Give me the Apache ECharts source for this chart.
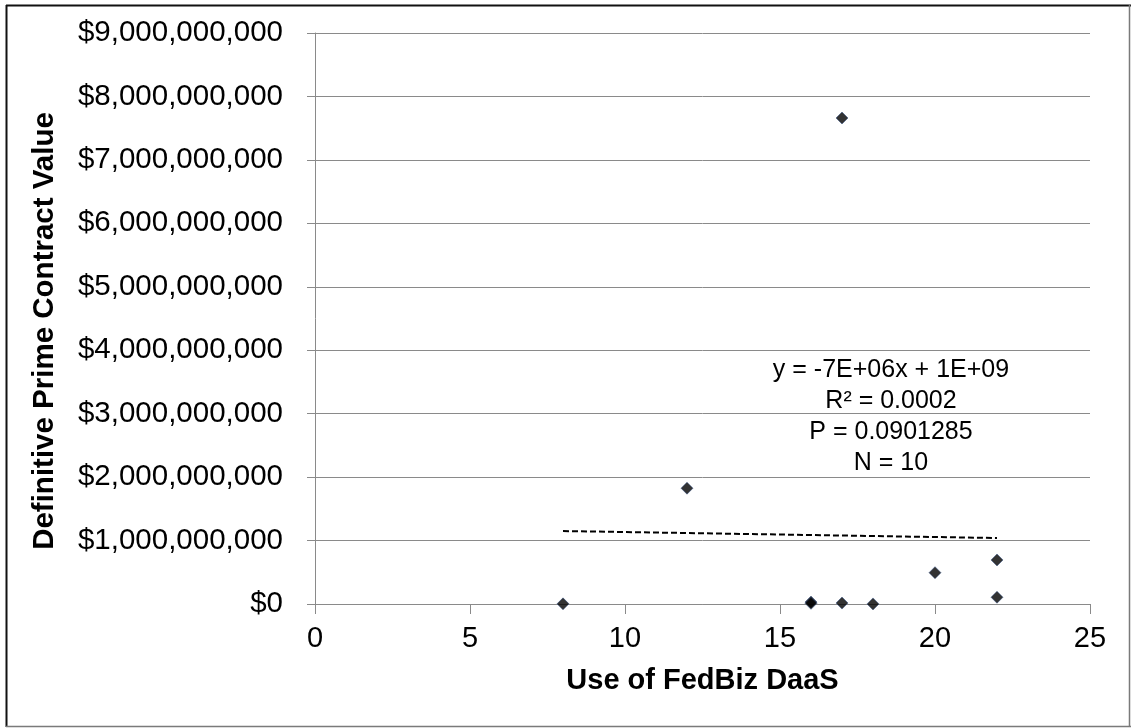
<!DOCTYPE html>
<html>
<head>
<meta charset="utf-8">
<script src="https://cdn.jsdelivr.net/npm/echarts@6/dist/echarts.min.js"></script>
<style>
html,body{margin:0;padding:0;background:#fff;}
#c{width:1131px;height:728px;}
</style>
</head>
<body>
<div id="c"></div>
<script>
// Data
var usesX = [8, 12, 17, 16, 16, 17, 18, 20, 22, 22];
var contractValues = [2e6, 1.825e9, 7.66e9, 3e7, 1e7, 1.5e7, 1e6, 4.94e8, 6.94e8, 1.06e8];
var trendX = [8, 22];
var trendY = [1.15e9, 1.04e9];
var xTicks = [0, 5, 10, 15, 20, 25];
var yTickMax = 9e9;
var annotationLines = ['y = -7E+06x + 1E+09', 'R\u00B2 = 0.0002', 'P = 0.0901285', 'N = 10'];

var FONT = "'Liberation Sans', Arial, sans-serif";
var GRID_GREY = '#8a8a8a';

function money(v) {
  return '$' + String(Math.round(v)).replace(/\B(?=(\d{3})+(?!\d))/g, ',');
}

var points = usesX.map(function (x, i) { return [x, contractValues[i]]; });
var trend = trendX.map(function (x, i) { return [x, trendY[i]]; });

var chart = echarts.init(document.getElementById('c'), null, {renderer: 'canvas'});
chart.setOption({
  animation: false,
  backgroundColor: '#fff',
  grid: {left: 315, right: 41, top: 33, bottom: 124, containLabel: false},
  xAxis: {
    type: 'value',
    min: xTicks[0],
    max: xTicks[xTicks.length - 1],
    interval: 5,
    name: 'Use of FedBiz DaaS',
    nameLocation: 'middle',
    nameGap: 62,
    nameTextStyle: {fontFamily: FONT, fontSize: 29, fontWeight: 'bold', color: '#000'},
    axisLine: {show: true, lineStyle: {color: GRID_GREY, width: 1}},
    axisTick: {show: true, inside: false, length: 10, lineStyle: {color: GRID_GREY}},
    axisLabel: {fontFamily: FONT, fontSize: 29, color: '#000', margin: 20},
    splitLine: {show: false}
  },
  yAxis: {
    type: 'value',
    min: 0,
    max: yTickMax,
    interval: 1e9,
    axisLine: {show: true, lineStyle: {color: GRID_GREY, width: 1}},
    axisTick: {show: true, inside: false, length: 8, lineStyle: {color: GRID_GREY}},
    axisLabel: {fontFamily: FONT, fontSize: 29.5, color: '#000', margin: 32, formatter: money},
    splitLine: {show: true, lineStyle: {color: GRID_GREY, width: 1}}
  },
  series: [
    {
      type: 'line',
      data: trend,
      symbol: 'none',
      lineStyle: {color: '#000', width: 2, type: [6, 3]},
      z: 2
    },
    {
      type: 'scatter',
      data: points,
      symbol: 'diamond',
      symbolSize: 12,
      itemStyle: {color: '#000', borderColor: '#2a4a80', borderWidth: 0.6},
      z: 3
    }
  ],
  graphic: [
    {
      type: 'text',
      x: 891, y: 355,
      style: {
        text: annotationLines.join('\n'),
        font: '25px ' + FONT,
        fill: '#000',
        align: 'center',
        verticalAlign: 'top',
        lineHeight: 31
      },
      z: 10
    },
    {
      type: 'text',
      x: 45, y: 331,
      rotation: Math.PI / 2,
      style: {
        text: 'Definitive Prime Contract Value',
        font: 'bold 29.5px ' + FONT,
        fill: '#000',
        align: 'center',
        verticalAlign: 'middle'
      },
      z: 10
    },
    {type: 'line', shape: {x1: 6, y1: 5.5, x2: 1131, y2: 5.5}, style: {stroke: '#111', lineWidth: 2}, z: 20},
    {type: 'line', shape: {x1: 6.5, y1: 5, x2: 6.5, y2: 727}, style: {stroke: '#111', lineWidth: 2}, z: 20},
    {type: 'line', shape: {x1: 6, y1: 726.5, x2: 1131, y2: 726.5}, style: {stroke: '#7a7a7a', lineWidth: 1.5}, z: 20},
    {type: 'line', shape: {x1: 1129.5, y1: 5, x2: 1129.5, y2: 727}, style: {stroke: '#7a7a7a', lineWidth: 1.5}, z: 20}
  ]
});
</script>
</body>
</html>
